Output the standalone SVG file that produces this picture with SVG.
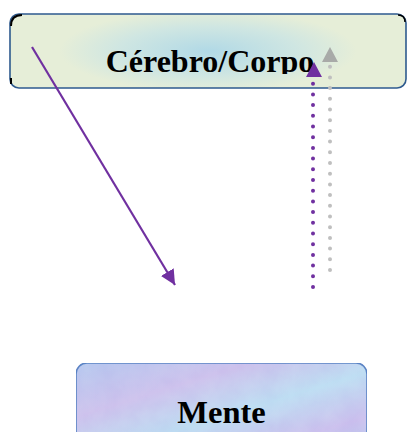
<svg xmlns="http://www.w3.org/2000/svg" width="408" height="432" viewBox="0 0 408 432">
  <style>
    .label { font-family: "Liberation Serif", "Times New Roman", serif; font-weight: bold; fill: #000; text-anchor: middle; }
    .dot-purple { fill: none; stroke: #7030a0; stroke-width: 4; stroke-linecap: round; stroke-dasharray: 0 10.7; }
    .dot-gray { fill: none; stroke: #bfbfbf; stroke-width: 4; stroke-linecap: round; stroke-dasharray: 0 10.7; }
  </style>
  <defs>
    <radialGradient id="gradBody" cx="0.5" cy="0.5" r="0.5" gradientTransform="translate(0.5 0.5) scale(0.75 1.1) translate(-0.5 -0.5)">
      <stop offset="0" stop-color="#b1d9e6"/>
      <stop offset="0.6" stop-color="#cfe6e2"/>
      <stop offset="1" stop-color="#e6eed8"/>
    </radialGradient>
    <linearGradient id="gradMind" x1="0" y1="0" x2="1" y2="1">
      <stop offset="0" stop-color="#b9cdf0"/>
      <stop offset="0.3" stop-color="#d2c8ee"/>
      <stop offset="0.55" stop-color="#c2e3f4"/>
      <stop offset="0.8" stop-color="#d0c6ef"/>
      <stop offset="1" stop-color="#bcd2f0"/>
    </linearGradient>
    <filter id="mottle" x="0" y="0" width="1" height="1">
      <feTurbulence type="fractalNoise" baseFrequency="0.05" numOctaves="3" seed="4" result="n"/>
      <feColorMatrix in="n" type="matrix" values="0 0 0 0 0.85  0 0 0 0 0.8  0 0 0 0 0.95  0 0 0 0.6 0" result="c"/>
      <feComposite in="c" in2="SourceGraphic" operator="in" result="m"/>
      <feBlend in="SourceGraphic" in2="m" mode="multiply"/>
    </filter>
    <clipPath id="bodyClip">
      <rect x="10" y="14" width="396" height="60"/>
    </clipPath>
    <marker id="headPurple" viewBox="0 0 10 10" refX="10" refY="5" markerWidth="15" markerHeight="15" markerUnits="userSpaceOnUse" orient="auto">
      <path d="M0,0 L10,5 L0,10 z" fill="#7030a0"/>
    </marker>
  </defs>

  <g id="node-cerebro-corpo">
    <rect x="10" y="14" width="396" height="74" rx="9" ry="9" fill="url(#gradBody)" stroke="#2e5a8e" stroke-width="1.6"/>
    <path d="M11,26 Q11,15 22,15" fill="none" stroke="#000" stroke-width="2"/>
    <path d="M11,78 L11,84" fill="none" stroke="#000" stroke-width="2"/>
    <path d="M398,15 Q405,15 405,22" fill="none" stroke="#000" stroke-width="1.5"/>
    <text class="label" x="210" y="72" font-size="32" clip-path="url(#bodyClip)">Cérebro/Corpo</text>
  </g>

  <g id="node-mente">
    <rect x="76" y="363" width="291" height="90" rx="11" ry="11" fill="url(#gradMind)" filter="url(#mottle)" stroke="#5b86c5" stroke-width="1.6"/>
    <text class="label" x="221.5" y="423" font-size="32.5">Mente</text>
  </g>

  <g id="connectors">
    <line x1="32" y1="47" x2="175" y2="285" stroke="#7030a0" stroke-width="2.2" marker-end="url(#headPurple)"/>
    <g>
      <path class="dot-gray" d="M330,270 L330,65"/>
      <polygon points="330,47 322,62 338,62" fill="#a8aaa8"/>
    </g>
    <g>
      <path class="dot-purple" d="M313,287 L313,82"/>
      <polygon points="314,62 306,77 322,77" fill="#7030a0"/>
    </g>
  </g>
</svg>
